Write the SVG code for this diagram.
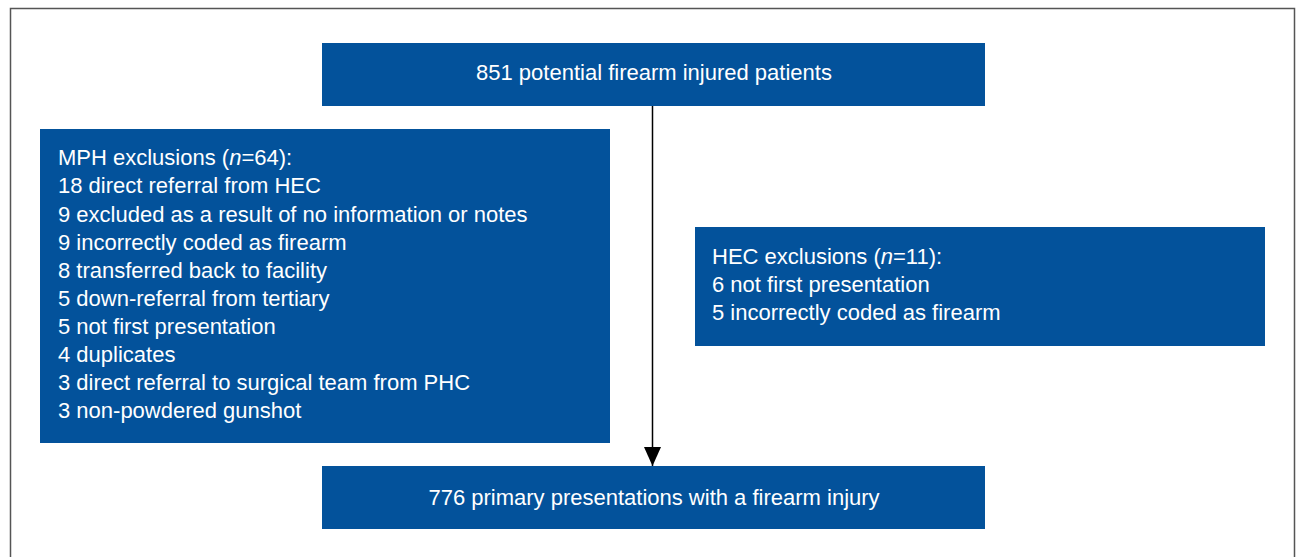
<svg xmlns="http://www.w3.org/2000/svg" width="1297" height="557" viewBox="0 0 1297 557">
<style>
.box{fill:#03529b}
.t{font-family:"Liberation Sans",Arial,sans-serif;font-size:22px;fill:#ffffff}
.c{text-anchor:middle}
</style>
<defs>
<marker id="ah" markerWidth="19" markerHeight="17" refX="19" refY="8.5" orient="auto" markerUnits="userSpaceOnUse">
<path d="M0,0 L19,8.5 L0,17 Z" fill="#000"/>
</marker>
</defs>
<rect x="0" y="0" width="1297" height="557" fill="#fff"/>
<path d="M10.5,557 L10.5,8.5 L1294.5,8.5 L1294.5,557" fill="none" stroke="#555" stroke-width="1.5"/>
<g id="connectors">
<line x1="652.5" y1="106" x2="652.5" y2="466" stroke="#000" stroke-width="1.5" marker-end="url(#ah)"/>
</g>
<g id="node-top">
<rect class="box" x="322" y="43" width="663" height="63"/>
<text class="t c" x="654" y="80">851 potential firearm injured patients</text>
</g>
<g id="node-mph">
<rect class="box" x="40" y="129" width="570" height="314"/>
<text class="t" x="58" y="165">MPH exclusions (<tspan font-style="italic">n</tspan>=64):</text>
<text class="t" x="58" y="193">18 direct referral from HEC</text>
<text class="t" x="58" y="222">9 excluded as a result of no information or notes</text>
<text class="t" x="58" y="250">9 incorrectly coded as firearm</text>
<text class="t" x="58" y="278">8 transferred back to facility</text>
<text class="t" x="58" y="306">5 down-referral from tertiary</text>
<text class="t" x="58" y="334">5 not first presentation</text>
<text class="t" x="58" y="362">4 duplicates</text>
<text class="t" x="58" y="390">3 direct referral to surgical team from PHC</text>
<text class="t" x="58" y="418">3 non-powdered gunshot</text>
</g>
<g id="node-hec">
<rect class="box" x="695" y="227" width="570" height="119"/>
<text class="t" x="712" y="264">HEC exclusions (<tspan font-style="italic">n</tspan>=11):</text>
<text class="t" x="712" y="292">6 not first presentation</text>
<text class="t" x="712" y="320">5 incorrectly coded as firearm</text>
</g>
<g id="node-bottom">
<rect class="box" x="322" y="466" width="663" height="63"/>
<text class="t c" x="654" y="505">776 primary presentations with a firearm injury</text>
</g>
</svg>
